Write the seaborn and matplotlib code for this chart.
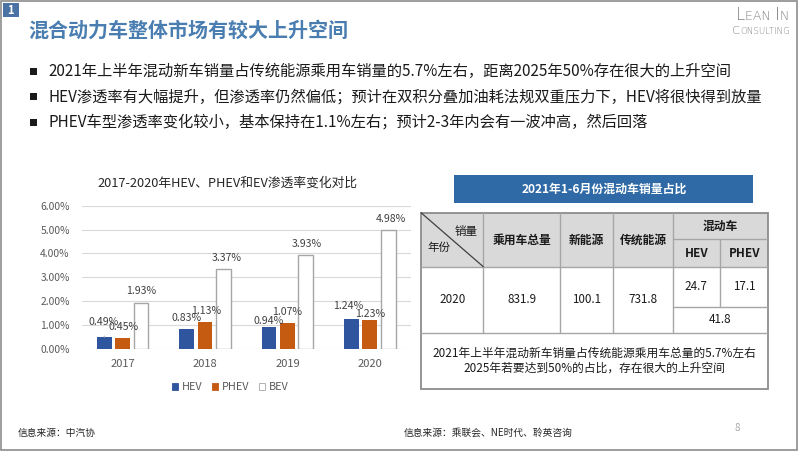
import matplotlib
matplotlib.use("Agg")
import matplotlib.pyplot as plt
from matplotlib.patches import Rectangle, Patch
import seaborn as sns
import pandas as pd

# ---- data ----
years = ["2017", "2018", "2019", "2020"]
hev = [0.49, 0.83, 0.94, 1.24]
phev = [0.45, 1.13, 1.07, 1.23]
bev = [1.93, 3.37, 3.93, 4.98]
series_names = ["HEV", "PHEV", "BEV"]

title = "混合动力车整体市场有较大上升空间"
bullets = [
    "2021年上半年混动新车销量占传统能源乘用车销量的5.7%左右，距离2025年50%存在很大的上升空间",
    "HEV渗透率有大幅提升，但渗透率仍然偏低；预计在双积分叠加油耗法规双重压力下，HEV将很快得到放量",
    "PHEV车型渗透率变化较小，基本保持在1.1%左右；预计2-3年内会有一波冲高，然后回落",
]
chart_title = "2017-2020年HEV、PHEV和EV渗透率变化对比"

table_title = "2021年1-6月份混动车销量占比"
table_year = "2020"
table_cols = ["乘用车总量", "新能源", "传统能源"]
table_vals = [831.9, 100.1, 731.8]
hybrid_head = "混动车"
hybrid_cols = ["HEV", "PHEV"]
hybrid_vals = [24.7, 17.1]
hybrid_total = 41.8
table_note = ["2021年上半年混动新车销量占传统能源乘用车总量的5.7%左右",
              "2025年若要达到50%的占比，存在很大的上升空间"]

source_left = "信息来源：中汽协"
source_right = "信息来源：乘联会、NE时代、聆英咨询"
page_no = "8"

# label nudges in pixels (dx, dy) per series / year
nudges = {
    "HEV": [(-1, 15), (0, 11), (0, 6), (-3, 13)],
    "PHEV": [(1, 11), (1, 11), (0, 11), (0, 6)],
    "BEV": [(0, 12), (3, 11), (1, 11), (3, 11)],
}

colors = {"HEV": "#2f559f", "PHEV": "#c55a11", "BEV": "#ffffff"}

sns.set_theme(style="white")
plt.rcParams["font.family"] = ["Noto Sans CJK SC", "DejaVu Sans"]

W, H = 802, 451
fig = plt.figure(figsize=(W / 100, H / 100), dpi=100)
fig.patch.set_facecolor("white")

# background axes in pixel coordinates for slide decoration
bg = fig.add_axes([0, 0, 1, 1])
bg.set_xlim(0, W)
bg.set_ylim(H, 0)
bg.axis("off")

# slide frame
bg.add_patch(Rectangle((1, 1), 796, 449, fill=False, ec="#8c8c8c", lw=1.2))

# badge
bg.add_patch(Rectangle((3, 3), 15.5, 14, fc="#4a72a4", ec="none"))
bg.text(10.8, 10.3, "1", color="white", fontsize=8, fontweight="bold", ha="center", va="center")

# title
bg.text(28, 30, title, color="#4a7db0", fontsize=14.4, fontweight="bold", va="center", ha="left")

# logo with small caps look
renderer = fig.canvas.get_renderer()


def small_caps(pieces, x_right, y, color="#7f7f7f"):
    objs = []
    for txt, size in pieces:
        t = bg.text(0, y, txt, fontsize=size, color=color, va="baseline", ha="left",
                    family=["DejaVu Sans"], fontweight="light")
        objs.append(t)
    widths = [t.get_window_extent(renderer).width for t in objs]
    x = x_right - sum(widths)
    for t, w in zip(objs, widths):
        t.set_x(x)
        x += w


small_caps([("L", 12), ("EAN ", 9), ("I", 12), ("N", 9)], 789, 19.5)
small_caps([("C", 8.2), ("ONSULTING", 6.2)], 790, 34)

# bullets
for i, b in enumerate(bullets):
    yc = 71.5 + i * 25.3
    bg.add_patch(Rectangle((30, yc - 3.6), 7, 7.2, fc="#1a1a1a", ec="none"))
    bg.text(48, yc, b, fontsize=11, color="#1a1a1a", va="center", ha="left")

# chart title
bg.text(227.5, 183.5, chart_title, fontsize=9.2, color="#262626", ha="center", va="center")

# ---- bar chart ----
df = pd.DataFrame({
    "year": years * 3,
    "type": ["HEV"] * 4 + ["PHEV"] * 4 + ["BEV"] * 4,
    "rate": hev + phev + bev,
})

ax = fig.add_axes([81.5 / W, (H - 349) / H, (411 - 81.5) / W, (349 - 205.7) / H])
sns.barplot(data=df, x="year", y="rate", hue="type", hue_order=series_names,
            palette=colors, width=0.67, gap=0.2, saturation=1, legend=False, ax=ax)

for name, cont in zip(series_names, ax.containers):
    for j, bar in enumerate(cont):
        if name == "BEV":
            bar.set_edgecolor("#a6a6a6")
            bar.set_linewidth(1.0)
        else:
            bar.set_linewidth(0)
        dx, dy = nudges[name][j]
        cx = bar.get_x() + bar.get_width() / 2
        top = bar.get_height()
        if name == "HEV" and j == 0:
            ax.annotate(f"{top:.2f}%", xy=(cx, top), xytext=(dx, dy), textcoords="offset pixels",
                        ha="center", va="center", fontsize=7.6, color="#404040",
                        arrowprops=dict(arrowstyle="-", color="#a6a6a6", lw=0.8, shrinkA=4, shrinkB=0))
        else:
            ax.annotate(f"{top:.2f}%", xy=(cx, top), xytext=(dx, dy), textcoords="offset pixels",
                        ha="center", va="center", fontsize=7.6, color="#404040")

ax.set_ylim(0, 6)
ax.set_xlim(-0.5, 3.5)
ax.set_yticks(range(0, 7))
ax.set_yticklabels([f"{v:.2f}%" for v in range(0, 7)])
ax.yaxis.grid(True, color="#d9d9d9", lw=0.8)
ax.set_axisbelow(True)
ax.set_xlabel("")
ax.set_ylabel("")
ax.tick_params(axis="y", length=0, pad=8.5, labelsize=7.4, labelcolor="#595959")
ax.tick_params(axis="x", length=0, pad=7.5, labelsize=8, labelcolor="#595959")
sns.despine(ax=ax, left=True, bottom=True)
ax.patch.set_alpha(0)

handles = [Patch(fc=colors[n], ec="#a6a6a6" if n == "BEV" else colors[n], lw=0.6) for n in series_names]
fig.legend(handles, series_names, loc="center", bbox_to_anchor=(230 / W, 1 - 387.5 / H), ncol=3,
           frameon=False, fontsize=7.8, handlelength=0.6, handleheight=0.6, handletextpad=0.3,
           columnspacing=0.9, labelcolor="#595959")

# ---- table ----
bg.add_patch(Rectangle((454.3, 175), 299, 28.3, fc="#2f6aa6", ec="none"))
bg.text(603.8, 189.5, table_title, color="white", fontsize=8.6, fontweight="bold", ha="center", va="center")

xs = [421, 483.3, 560, 613.3, 672.7, 720, 768.3]
y0, ysub1, y1, ysub2, y2, y3 = 212.7, 239.3, 266.7, 306.7, 332.7, 389.3
line_c = "#a6a6a6"
bg.add_patch(Rectangle((xs[0], y0), xs[-1] - xs[0], y1 - y0, fc="#d9d9d9", ec="none"))
# vertical lines
for x in xs[1:5]:
    bg.plot([x, x], [y0, y2], color=line_c, lw=1)
bg.plot([xs[5], xs[5]], [ysub1, ysub2], color=line_c, lw=1)
# horizontal lines
bg.plot([xs[0], xs[-1]], [y1, y1], color=line_c, lw=1)
bg.plot([xs[0], xs[-1]], [y2, y2], color=line_c, lw=1)
bg.plot([xs[4], xs[-1]], [ysub1, ysub1], color=line_c, lw=1)
bg.plot([xs[4], xs[-1]], [ysub2, ysub2], color=line_c, lw=1)
# diagonal
bg.plot([xs[0], xs[1]], [y0, y1], color="#404040", lw=0.9)
# outer border
bg.add_patch(Rectangle((xs[0], y0), xs[-1] - xs[0], y3 - y0, fill=False, ec="#8c8c8c", lw=1.3))

txt_c = "#1a1a1a"
bg.text(466, 231.5, "销量", fontsize=8.3, color=txt_c, ha="center", va="center")
bg.text(438.5, 247.5, "年份", fontsize=8.3, color=txt_c, ha="center", va="center")
for k, name in enumerate(table_cols):
    xc = (xs[k + 1] + xs[k + 2]) / 2
    bg.text(xc, 240, name, fontsize=8.5, fontweight="bold", color=txt_c, ha="center", va="center")
    bg.text(xc, 299.7, f"{table_vals[k]:.1f}", fontsize=8.4, color=txt_c, ha="center", va="center")
bg.text((xs[0] + xs[1]) / 2, 299.7, table_year, fontsize=8.4, color=txt_c, ha="center", va="center")
bg.text((xs[4] + xs[6]) / 2, 226, hybrid_head, fontsize=8.5, fontweight="bold", color=txt_c,
        ha="center", va="center")
for k, name in enumerate(hybrid_cols):
    xc = (xs[4 + k] + xs[5 + k]) / 2
    bg.text(xc, 253.3, name, fontsize=8.5, fontweight="bold", color=txt_c, ha="center", va="center")
    bg.text(xc, 286.7, f"{hybrid_vals[k]:.1f}", fontsize=8.4, color=txt_c, ha="center", va="center")
bg.text((xs[4] + xs[6]) / 2, 319.7, f"{hybrid_total:.1f}", fontsize=8.4, color=txt_c, ha="center", va="center")
for k, line in enumerate(table_note):
    bg.text(594.7, 353.3 + k * 15, line, fontsize=8.45, color=txt_c, ha="center", va="center")

# footer
bg.text(18, 433, source_left, fontsize=7, color="#262626", ha="left", va="center")
bg.text(404, 433, source_right, fontsize=7, color="#262626", ha="left", va="center")
bg.text(737, 428, page_no, fontsize=7, color="#a6a6a6", ha="center", va="center")

fig.savefig("out.png", dpi=100)
